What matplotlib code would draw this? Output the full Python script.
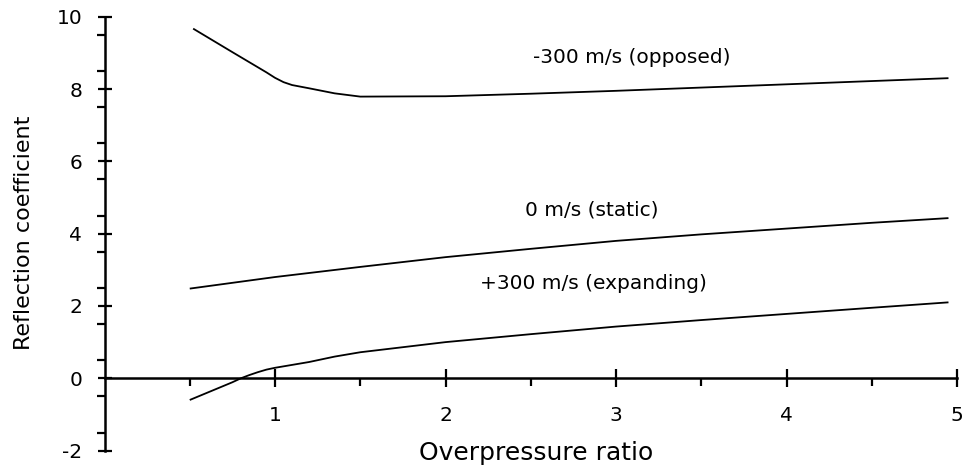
import matplotlib
matplotlib.use("Agg")
import matplotlib.pyplot as plt
from matplotlib.ticker import FixedLocator

plt.rcParams['font.family'] = ['DejaVu Sans']

# Reflection coefficient vs overpressure ratio for three flow velocities
opposed_x = [0.52, 0.75, 0.95, 1.0, 1.05, 1.1, 1.2, 1.35, 1.5, 2.0, 2.5, 3.0, 3.5, 4.0, 4.5, 4.95]
opposed_y = [9.67, 9.02, 8.46, 8.31, 8.19, 8.11, 8.02, 7.88, 7.79, 7.80, 7.87, 7.95, 8.04, 8.13, 8.22, 8.30]

static_x = [0.5, 1.0, 1.5, 2.0, 2.5, 3.0, 3.5, 4.0, 4.5, 4.95]
static_y = [2.48, 2.80, 3.08, 3.35, 3.58, 3.80, 3.98, 4.14, 4.30, 4.43]

expanding_x = [0.5, 0.75, 0.8, 0.85, 0.9, 0.95, 1.0, 1.1, 1.2, 1.35, 1.5, 2.0, 2.5, 3.0, 3.5, 4.0, 4.5, 4.95]
expanding_y = [-0.60, -0.11, 0.0, 0.09, 0.17, 0.24, 0.29, 0.37, 0.45, 0.60, 0.72, 1.0, 1.22, 1.43, 1.61, 1.78, 1.95, 2.10]

curve_labels = ["-300 m/s (opposed)", "0 m/s (static)", "+300 m/s (expanding)"]
label_x = [3.09, 2.855, 2.87]
label_y = [8.87, 4.65, 2.63]

x_major = [1, 2, 3, 4, 5]
x_minor = [0.5, 1.5, 2.5, 3.5, 4.5]
y_major = [-2, 0, 2, 4, 6, 8, 10]
y_minor = [v / 2 for v in range(-3, 20, 2)]

fig = plt.figure(figsize=(9.63, 4.66), dpi=100)
W, H = 963, 466
left_px, right_px = 104.5, 957
top_px, bottom_px = 16.7, 450.6
ax = fig.add_axes([left_px / W, (H - bottom_px) / H,
                   (right_px - left_px) / W, (bottom_px - top_px) / H])

for xs, ys in [(opposed_x, opposed_y), (static_x, static_y), (expanding_x, expanding_y)]:
    ax.plot(xs, ys, color='black', lw=1.3, solid_capstyle='butt',
            solid_joinstyle='round')

for txt, tx, ty in zip(curve_labels, label_x, label_y):
    ax.text(tx, ty, txt, ha='center', va='center', fontsize=14.5, color='black')

ax.set_xlim(0, 5)
ax.set_ylim(-2, 10)

ax.spines['top'].set_visible(False)
ax.spines['right'].set_visible(False)
ax.spines['left'].set_position(('data', 0))
ax.spines['bottom'].set_position(('data', 0))
for s in ('left', 'bottom'):
    ax.spines[s].set_linewidth(1.8)

ax.xaxis.set_major_locator(FixedLocator(x_major))
ax.xaxis.set_minor_locator(FixedLocator(x_minor))
ax.yaxis.set_major_locator(FixedLocator(y_major))
ax.yaxis.set_minor_locator(FixedLocator(y_minor))
ax.set_xticklabels([str(v) for v in x_major])
ax.set_yticklabels([str(v) for v in y_major])

ax.tick_params(axis='x', which='major', direction='inout', length=13, width=1.6,
               pad=13.5, labelsize=14.5)
ax.tick_params(axis='x', which='minor', direction='out', length=5.8, width=1.6)
ax.tick_params(axis='y', which='major', direction='inout', length=10, width=1.6,
               pad=11, labelsize=14.5)
ax.tick_params(axis='y', which='minor', direction='out', length=5.8, width=1.6)

ax.set_xlabel("Overpressure ratio", fontsize=18)
ax.xaxis.label.set_va('center')
ax.xaxis.set_label_coords(0.506, -0.0055)

ax.set_ylabel("Reflection coefficient", fontsize=16)
ax.yaxis.label.set_va('center')
ax.yaxis.set_label_coords(-0.0944, 0.5026)

fig.savefig("out.png", dpi=100)
